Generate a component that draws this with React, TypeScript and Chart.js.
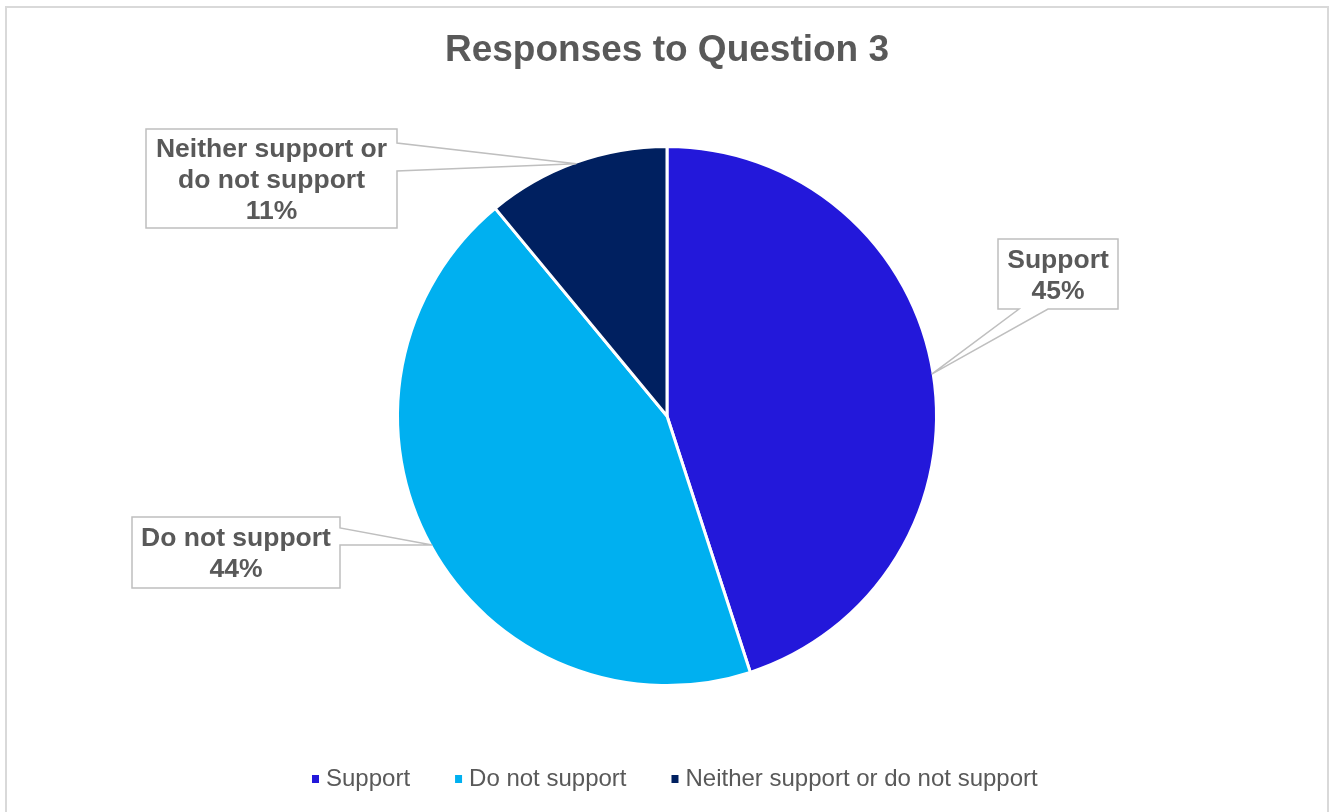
import React, { useEffect, useRef } from "react";
import { Chart, registerables } from "chart.js";

Chart.register(...registerables);

// ---- data ----
const chartTitle = "Responses to Question 3";
const categories = ["Support", "Do not support", "Neither support or do not support"];
const values = [45, 44, 11];
const colors = ["#2318DA", "#00B0F0", "#002060"];
const labelLines = [["Support"], ["Do not support"], ["Neither support or", "do not support"]];

// ---- styling ----
const FONT = "'Liberation Sans', Arial, Helvetica, sans-serif";
const TEXT = "#595959";
const BOX_STROKE = "#BFBFBF";

// callout boxes (left, top, right, bottom), side with the pointer, pointer base span
const calloutBoxes = [
  { box: [998, 239, 1118, 309], side: "bottom", base: [1019, 1048] },
  { box: [132, 517, 340, 588], side: "right", base: [528, 545] },
  { box: [146, 129, 397, 228], side: "right", base: [143, 171] },
];

const frameBorder = {
  id: "frameBorder",
  beforeDraw(chart: any) {
    const ctx = chart.ctx;
    ctx.save();
    ctx.fillStyle = "#ffffff";
    ctx.fillRect(0, 0, chart.width, chart.height);
    ctx.strokeStyle = "#D9D9D9";
    ctx.lineWidth = 2;
    ctx.strokeRect(6, 7, 1322, 840);
    ctx.restore();
  },
};

const calloutPlugin = {
  id: "callouts",
  afterDatasetsDraw(chart: any) {
    const ctx = chart.ctx;
    const meta = chart.getDatasetMeta(0);
    const total = values.reduce((a, b) => a + b, 0);
    meta.data.forEach((arc: any, i: number) => {
      const { x, y, startAngle, endAngle, outerRadius } = arc.getProps(
        ["x", "y", "startAngle", "endAngle", "outerRadius"],
        true
      );
      const mid = (startAngle + endAngle) / 2;
      const tx = x + Math.cos(mid) * (outerRadius - 1.5);
      const ty = y + Math.sin(mid) * (outerRadius - 1.5);
      const c = calloutBoxes[i];
      const [x0, y0, x1, y1] = c.box;
      const [a, b] = c.base;
      ctx.save();
      ctx.beginPath();
      ctx.moveTo(x0, y0);
      ctx.lineTo(x1, y0);
      if (c.side === "right") {
        ctx.lineTo(x1, a);
        ctx.lineTo(tx, ty);
        ctx.lineTo(x1, b);
      }
      ctx.lineTo(x1, y1);
      if (c.side === "bottom") {
        ctx.lineTo(b, y1);
        ctx.lineTo(tx, ty);
        ctx.lineTo(a, y1);
      }
      ctx.lineTo(x0, y1);
      ctx.closePath();
      ctx.fillStyle = "#ffffff";
      ctx.fill();
      ctx.strokeStyle = BOX_STROKE;
      ctx.lineWidth = 1.5;
      ctx.lineJoin = "miter";
      ctx.stroke();

      const lines = [...labelLines[i], Math.round((values[i] / total) * 100) + "%"];
      const lh = 31;
      const cx = (x0 + x1) / 2;
      const cy = (y0 + y1) / 2 + 2;
      ctx.fillStyle = TEXT;
      ctx.font = `bold 26.5px ${FONT}`;
      ctx.textAlign = "center";
      ctx.textBaseline = "middle";
      lines.forEach((t, k) => {
        ctx.fillText(t, cx, cy - ((lines.length - 1) * lh) / 2 + k * lh);
      });
      ctx.restore();
    });
  },
};

const legendPlugin = {
  id: "customLegend",
  afterDraw(chart: any) {
    const ctx = chart.ctx;
    ctx.save();
    ctx.font = `24px ${FONT}`;
    ctx.textBaseline = "middle";
    ctx.textAlign = "left";
    let x = 312;
    const yc = 779;
    categories.forEach((cat, i) => {
      ctx.fillStyle = colors[i];
      ctx.fillRect(x, yc - 4, 7, 8);
      ctx.fillStyle = TEXT;
      ctx.fillText(cat, x + 14, yc);
      x += 14 + ctx.measureText(cat).width + 45;
    });
    ctx.restore();
  },
};

export default function App() {
  const ref = useRef<HTMLCanvasElement>(null);
  useEffect(() => {
    document.body.style.margin = "0";
    const chart = new Chart(ref.current as HTMLCanvasElement, {
      type: "pie",
      data: {
        labels: categories,
        datasets: [
          {
            data: values,
            backgroundColor: colors,
            borderColor: "#ffffff",
            borderWidth: 3,
          },
        ],
      },
      options: {
        responsive: false,
        animation: false,
        radius: 269.5,
        layout: { padding: { top: 0, bottom: 73.4, left: 0, right: 0 } },
        plugins: {
          legend: { display: false },
          tooltip: { enabled: false },
          title: {
            display: true,
            text: chartTitle,
            color: TEXT,
            font: { family: FONT, size: 37, weight: "bold", lineHeight: 1.2 },
            padding: { top: 29, bottom: 20 },
          },
        },
      } as any,
      plugins: [frameBorder, calloutPlugin, legendPlugin],
    });
    return () => chart.destroy();
  }, []);
  return (
    <div style={{ position: "absolute", left: 0, top: 0, width: 1334, height: 812, background: "#fff" }}>
      <canvas ref={ref} width={1334} height={812} style={{ display: "block", width: 1334, height: 812 }} />
    </div>
  );
}
